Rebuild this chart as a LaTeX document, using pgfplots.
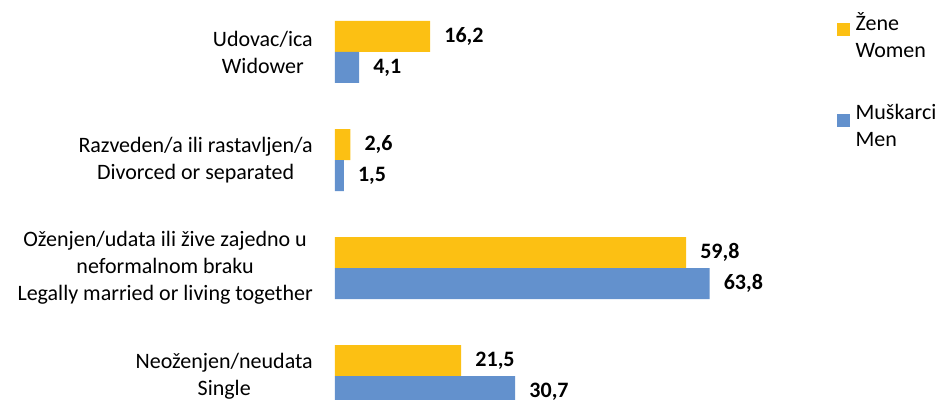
\documentclass[border=0pt]{standalone}
\usepackage{pgfplots}
\pgfplotsset{compat=1.18}
\usepackage{fontspec}
\setmainfont{Carlito}
\definecolor{zyellow}{HTML}{FCC013}
\definecolor{mblue}{HTML}{6391CD}
\newcommand\chfont{\fontsize{16.5}{20.25}\selectfont}
\begin{document}
\begin{tikzpicture}[font=\chfont]
\useasboundingbox (0pt,0pt) rectangle (705pt,-300pt);
\clip (0pt,0pt) rectangle (705pt,-300pt);
\begin{axis}[
  at={(251.25pt,-300pt)}, anchor=south west,
  scale only axis, width=440.25pt, height=301.5pt,
  xbar, xmin=0, xmax=100, ymin=-0.2222, ymax=3.5,
  clip=false,
  axis line style={draw=none},
  major tick length=0pt,
  xtick=\empty,
  ytick={0,1,2,3},
  yticklabels={{Neoženjen/neudata\\Single},
               {Oženjen/udata ili žive zajedno u\\neformalnom braku\\Legally married or living together},
               {Razveden/a ili rastavljen/a\\Divorced or separated},
               {Udovac/ica\\Widower}},
  yticklabel style={align=center, inner sep=0pt, xshift=-16.5pt, font=\chfont},
  bar width=23.25pt,
  nodes near coords,
  /pgf/number format/.cd, use comma, fixed, fixed zerofill, precision=1, assume math mode=true,
  /pgfplots/.cd,
  nodes near coords style={font=\chfont\bfseries, anchor=west, inner sep=0pt, xshift=10.5pt, text=black},
  legend style={at={(0.8552,0.9652)}, anchor=north west, draw=none, fill=none, inner sep=0pt,
    row sep=34pt, column sep=4pt,
    nodes={align=left, inner sep=0pt, font=\chfont}},
  legend cell align=left,
  legend image code/.code={\fill[#1] (0pt,0pt) rectangle (9.75pt,9.75pt);},
]
\addplot[fill=zyellow, draw=none, bar shift=11.625pt] coordinates {(21.5,0) (59.8,1) (2.6,2) (16.2,3)};
\addplot[fill=mblue, draw=none, bar shift=-11.625pt] coordinates {(30.7,0) (63.8,1) (1.5,2) (4.1,3)};
\legend{{Žene\\Women},{Muškarci\\Men}}
\end{axis}
\end{tikzpicture}
\end{document}
